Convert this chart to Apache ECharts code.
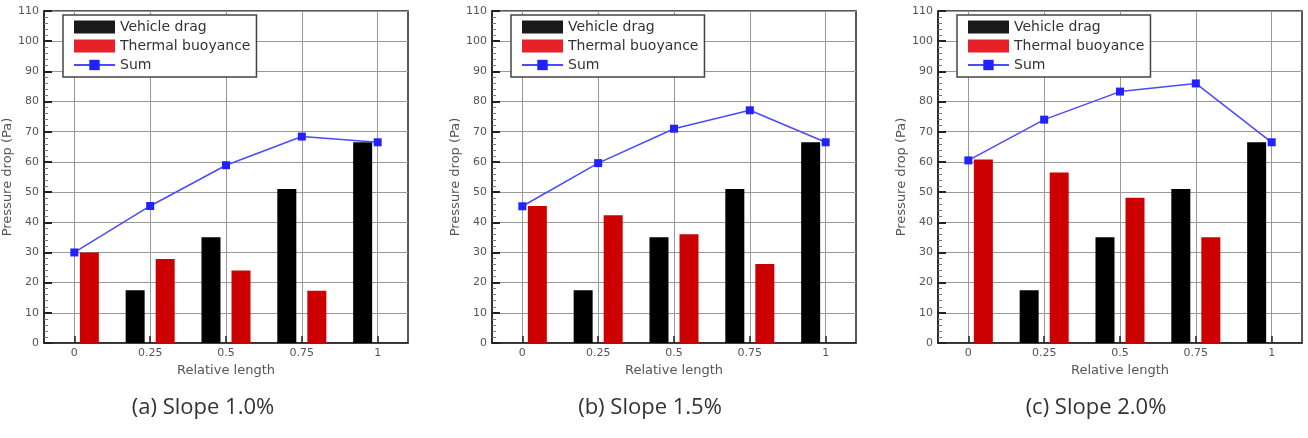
<!DOCTYPE html>
<html>
<head>
<meta charset="utf-8">
<script src="https://cdn.jsdelivr.net/npm/echarts@6/dist/echarts.min.js"></script>
<style>
  html, body { margin: 0; padding: 0; background: #fff; }
  #main { width: 1308px; height: 438px; }
</style>
</head>
<body>
<div id="main"></div>
<script>
// 横轴位置（相对长度）
var positions = [0, 0.25, 0.5, 0.75, 1];
var tickLabels = [0, 0.25, 0.5, 0.75, 1];

// 各坡度下的数据
var dragA = [null, 17.5, 35, 51, 66.5];
var buoyA = [30, 27.8, 24, 17.3, null];
var sumA = [30, 45.4, 58.9, 68.4, 66.5];

var dragB = [null, 17.5, 35, 51, 66.5];
var buoyB = [45.4, 42.3, 36, 26.2, null];
var sumB = [45.3, 59.6, 71, 77.1, 66.5];

var dragC = [null, 17.5, 35, 51, 66.5];
var buoyC = [60.8, 56.5, 48.1, 35, null];
var sumC = [60.5, 74, 83.3, 86, 66.5];

var captions = ['(a) Slope 1.0%', '(b) Slope 1.5%', '(c) Slope 2.0%'];

var chart = echarts.init(document.getElementById('main'));

var gridLefts = [44, 492, 938];
var captionX = [203, 650, 1096];
var font = 'DejaVu Sans';

function pairs(vals) {
  return positions.map(function (x, i) {
    return [x, vals[i] == null ? '-' : vals[i]];
  });
}

var grids = [], xAxes = [], yAxes = [], series = [], legends = [], graphics = [];
var panels = [[dragA, buoyA, sumA], [dragB, buoyB, sumB], [dragC, buoyC, sumC]];

panels.forEach(function (p, k) {
  grids.push({
    left: gridLefts[k], top: 11, width: 364, bottom: 95,
    show: true, borderColor: '#222', borderWidth: 1.5, backgroundColor: '#fff'
  });
  xAxes.push({
    gridIndex: k, type: 'value', min: -0.1, max: 1.1,
    name: 'Relative length', nameLocation: 'middle', nameGap: 19,
    nameTextStyle: { fontFamily: font, fontSize: 13, color: '#555' },
    axisLine: { onZero: false, lineStyle: { color: '#222', width: 1.5 } },
    axisTick: { inside: true, length: 7, lineStyle: { color: '#222', width: 1.5 }, customValues: tickLabels },
    axisLabel: { fontFamily: font, fontSize: 11, color: '#555', margin: 5, customValues: tickLabels },
    splitLine: { show: true, lineStyle: { color: '#999', width: 1 } }
  });
  yAxes.push({
    gridIndex: k, type: 'value', min: 0, max: 110, interval: 10,
    name: 'Pressure drop (Pa)', nameLocation: 'middle', nameGap: 27, nameRotate: 90,
    nameTextStyle: { fontFamily: font, fontSize: 13, color: '#555' },
    axisLine: { show: true, onZero: false, lineStyle: { color: '#222', width: 1.5 } },
    axisTick: { inside: true, length: 8, lineStyle: { color: '#222', width: 2 } },
    minorTick: { show: true, splitNumber: 5, length: 4, lineStyle: { color: '#777', width: 1 } },
    axisLabel: { fontFamily: font, fontSize: 11, color: '#555', margin: 5 },
    splitLine: { show: true, lineStyle: { color: '#999', width: 1 } }
  });
  series.push({
    name: 'Vehicle drag', type: 'bar', xAxisIndex: k, yAxisIndex: k,
    data: pairs(p[0]), barWidth: 19, barGap: '58%',
    itemStyle: { color: '#000' }
  });
  series.push({
    name: 'Thermal buoyance', type: 'bar', xAxisIndex: k, yAxisIndex: k,
    data: pairs(p[1]), barWidth: 19, barGap: '58%',
    itemStyle: { color: '#cc0000' }
  });
  series.push({
    name: 'Sum', type: 'line', xAxisIndex: k, yAxisIndex: k,
    data: pairs(p[2]), symbol: 'rect', symbolSize: 8, z: 5,
    lineStyle: { color: '#4a4aff', width: 1.5 },
    itemStyle: { color: '#2222ff' }
  });
  legends.push({
    left: gridLefts[k] + 19, top: 15, orient: 'vertical',
    backgroundColor: '#fff', borderColor: '#444', borderWidth: 1.5,
    padding: [5, 6, 5, 10], itemGap: 5, itemWidth: 41, itemHeight: 13, itemTextGap: 12,
    textStyle: { fontFamily: font, fontSize: 14, color: '#333' },
    data: [
      { name: 'Vehicle drag', icon: 'rect', itemStyle: { color: '#1a1a1a' } },
      { name: 'Thermal buoyance', icon: 'rect', itemStyle: { color: '#e8202a' } },
      { name: 'Sum' }
    ]
  });
  graphics.push({
    type: 'text', x: captionX[k], y: 408,
    style: {
      text: captions[k], fontFamily: 'Open Sans', fontSize: 22, fill: '#333',
      align: 'center', verticalAlign: 'middle'
    }
  });
});

chart.setOption({
  animation: false,
  grid: grids,
  xAxis: xAxes,
  yAxis: yAxes,
  legend: legends,
  series: series,
  graphic: graphics
});
</script>
</body>
</html>
